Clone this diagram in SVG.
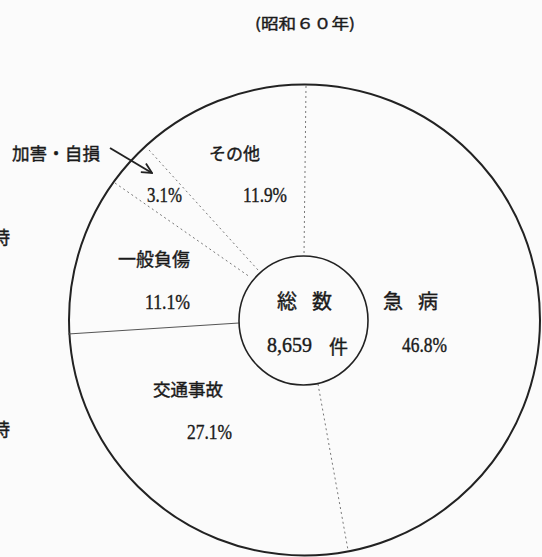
<svg xmlns="http://www.w3.org/2000/svg" width="542" height="557" viewBox="0 0 542 557">
<style>
.jp{font-family:"Noto Sans CJK JP","Noto Sans CJK SC",sans-serif;fill:#1a1a1a;stroke:#1a1a1a;stroke-width:0.4;dominant-baseline:central;text-anchor:middle}
.num{font-family:"Liberation Serif","Noto Sans CJK JP",serif;fill:#1a1a1a;stroke:#1a1a1a;stroke-width:0.4;dominant-baseline:central;text-anchor:middle;font-size:21px}
.dot{stroke:#777;stroke-width:1;stroke-dasharray:2 3;fill:none}
.ring{fill:none;stroke:#222}
</style>
<defs>
<marker id="open" viewBox="0 0 12 12" refX="11" refY="6" markerWidth="12" markerHeight="12" markerUnits="userSpaceOnUse" orient="auto">
<path d="M1,1 L11,6 L1,11" fill="none" stroke="#222" stroke-width="1.8"/>
</marker>
</defs>
<rect width="542" height="557" fill="#fbfbfb"/>
<text id="title" class="jp" x="305" y="22" font-size="15" textLength="100" lengthAdjust="spacingAndGlyphs">(昭和６０年)</text>
<g id="pie">
<circle class="ring" cx="304.5" cy="320" r="235.5" stroke-width="2"/>
</g>
<g id="connectors">
<line class="dot" x1="306" y1="86" x2="304" y2="256"/>
<line x1="68" y1="334" x2="239" y2="323" stroke="#555" stroke-width="1.2"/>
<line class="dot" x1="318" y1="384" x2="348" y2="550"/>
<line class="dot" x1="115" y1="183" x2="250" y2="277"/>
<line class="dot" x1="149" y1="150" x2="258" y2="270"/>
<line x1="110" y1="148" x2="152" y2="173" stroke="#222" stroke-width="2" marker-end="url(#open)"/>
</g>
<g id="center">
<circle class="ring" cx="303.5" cy="320.5" r="64.5" stroke-width="1.6" fill="#fbfbfb"/>
<text class="jp" x="304.5" y="300" font-size="20" textLength="55" lengthAdjust="spacing">総 数</text>
<text class="num" y="345"><tspan x="289.5" textLength="45" lengthAdjust="spacingAndGlyphs">8,659</tspan><tspan x="338.5" font-size="19" style="font-family:'Noto Sans CJK JP',sans-serif">件</tspan></text>
</g>
<g id="kyubyo">
<text class="jp" x="410.5" y="300" font-size="20" textLength="55" lengthAdjust="spacing">急 病</text>
<text class="num" x="424.5" y="345" textLength="45" lengthAdjust="spacingAndGlyphs">46.8%</text>
</g>
<g id="kotsu">
<text class="jp" x="188" y="388" font-size="17.5" textLength="70" lengthAdjust="spacingAndGlyphs">交通事故</text>
<text class="num" x="209.5" y="432" textLength="45" lengthAdjust="spacingAndGlyphs">27.1%</text>
</g>
<g id="ippan">
<text class="jp" x="154" y="258" font-size="18" textLength="72" lengthAdjust="spacingAndGlyphs">一般負傷</text>
<text class="num" x="167.5" y="302" textLength="45" lengthAdjust="spacingAndGlyphs">11.1%</text>
</g>
<g id="kagai">
<text class="jp" x="56" y="152" font-size="17.5" textLength="88" lengthAdjust="spacingAndGlyphs">加害・自損</text>
<text class="num" x="164.5" y="195" textLength="35" lengthAdjust="spacingAndGlyphs">3.1%</text>
</g>
<g id="sonota">
<text class="jp" x="234.5" y="152" font-size="17" textLength="51" lengthAdjust="spacingAndGlyphs">その他</text>
<text class="num" x="265" y="195" textLength="44" lengthAdjust="spacingAndGlyphs">11.9%</text>
</g>
<g id="edge">
<text class="jp" x="1" y="236" font-size="18">時</text>
<text class="jp" x="1" y="428" font-size="18">時</text>
</g>
</svg>
